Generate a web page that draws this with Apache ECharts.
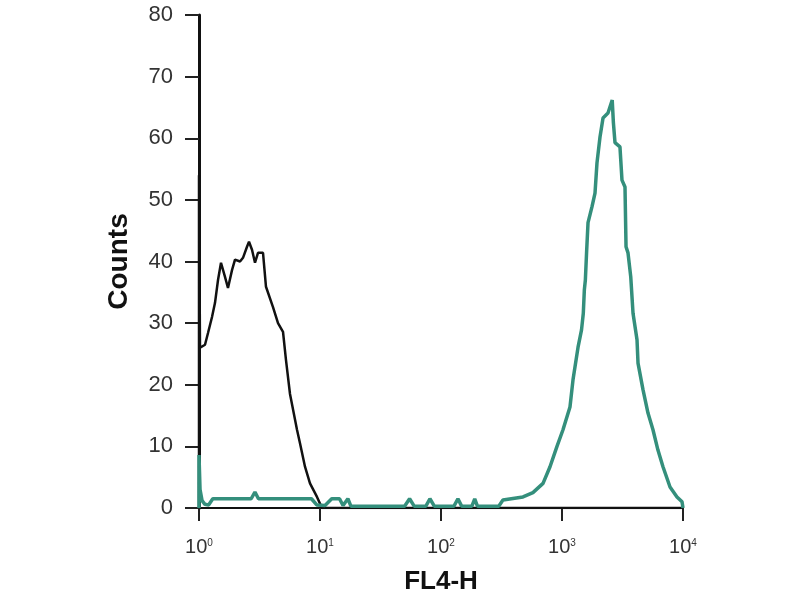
<!DOCTYPE html>
<html><head><meta charset="utf-8">
<script src="https://cdn.jsdelivr.net/npm/echarts@6/dist/echarts.min.js"></script>
<style>html,body{margin:0;padding:0;background:#fff}#c{width:800px;height:600px}</style>
</head><body><div id="c"></div>
<script>
// Isotype control (black) histogram: FL4-H channel value vs counts
const controlX = [1, 1, 1.019, 1.121, 1.187, 1.281, 1.356, 1.436, 1.52, 1.64, 1.736, 1.874, 1.984, 2.183, 2.31, 2.493, 2.59, 2.742, 2.903, 3.073, 3.381, 3.578, 4.089, 4.497, 4.946, 5.236, 5.65, 6.456, 6.834, 7.516, 8.268, 9.445, 10.39, 10000];
const controlY = [0, 54, 26, 26.5, 28.4, 31, 33.3, 37, 39.8, 37.5, 35.7, 38.6, 40.3, 40, 40.6, 42.4, 43.2, 41.9, 39.8, 41.4, 41.4, 35.9, 32.6, 30, 28.6, 24, 18.5, 12.7, 10.5, 6.7, 4, 1.8, 0, 0];
// Stained sample (teal) histogram
const sampleX = [1, 1, 1.02, 1.06, 1.12, 1.2, 1.3, 2.7, 2.9, 3.1, 8.5, 9.4, 11, 12.5, 14.5, 15.5, 17, 18, 50, 55, 60, 75, 81, 88, 128, 138, 148, 180, 190, 200, 300, 325, 476, 575, 697, 796, 909, 1019, 1164, 1233, 1357, 1450, 1500, 1530, 1560, 1600, 1641, 1770, 1874, 1946, 2061, 2183, 2400, 2600, 2660, 2741, 3013, 3131, 3316, 3382, 3511, 3700, 3863, 4168, 4248, 4670, 5136, 5647, 6208, 6833, 7811, 8917, 9816, 10000];
const sampleY = [0, 8.6, 3, 1.2, 0.6, 0.5, 1.5, 1.5, 2.6, 1.5, 1.5, 0.5, 0.4, 1.5, 1.5, 0.4, 1.5, 0.3, 0.3, 1.5, 0.3, 0.3, 1.5, 0.3, 0.3, 1.5, 0.3, 0.3, 1.5, 0.3, 0.3, 1.3, 1.8, 2.5, 4, 6.7, 10, 12.7, 16.4, 20.8, 26.1, 28.9, 31.6, 35.4, 37, 41.9, 46.3, 48.9, 51.1, 56, 60.2, 63.3, 64.1, 66.2, 62.5, 59.3, 58.6, 53.2, 52.1, 42.4, 41.4, 37.5, 31.6, 27.3, 23.5, 19.2, 15.4, 12.7, 9.4, 6.7, 3.4, 1.8, 1, 0];
const xExponents = ['0', '1', '2', '3', '4'];
const yTicks = [0, 10, 20, 30, 40, 50, 60, 70, 80];
const xName = 'FL4-H';
const yName = 'Counts';

const zip = (xs, ys) => xs.map((x, i) => [x, ys[i]]);
const chart = echarts.init(document.getElementById('c'));
const tickFont = "'Liberation Sans Narrow', 'Liberation Sans', Arial, sans-serif";
chart.setOption({
  animation: false,
  grid: { left: 199, right: 117, top: 15, bottom: 92 },
  xAxis: {
    type: 'log', logBase: 10, min: 1, max: 10000,
    name: xName, nameLocation: 'middle', nameGap: 61,
    nameTextStyle: { fontFamily: 'Liberation Sans, Arial', fontWeight: 'bold', fontSize: 26, color: '#111' },
    axisLine: { lineStyle: { color: '#111', width: 2 } },
    axisTick: { show: true, length: 13, lineStyle: { color: '#222', width: 2 } },
    minorTick: { show: false },
    splitLine: { show: false },
    axisLabel: {
      margin: 27,
      formatter: v => '{b|10}{s|' + xExponents[Math.round(Math.log10(v))] + '}',
      rich: {
        b: { fontFamily: tickFont, fontSize: 20, color: '#333', verticalAlign: 'bottom', lineHeight: 22 },
        s: { fontFamily: tickFont, fontSize: 10, color: '#333', verticalAlign: 'bottom', lineHeight: 22, padding: [0, 0, 9, 0] }
      }
    }
  },
  yAxis: {
    type: 'value', min: 0, max: 80, interval: 10,
    name: yName, nameLocation: 'middle', nameGap: 66,
    nameTextStyle: { fontFamily: 'Liberation Sans, Arial', fontWeight: 'bold', fontSize: 28, color: '#111' },
    axisLine: { show: true, lineStyle: { color: '#111', width: 3 } },
    axisTick: { show: true, length: 14, lineStyle: { color: '#222', width: 2 } },
    splitLine: { show: false },
    axisLabel: {
      margin: 26, fontFamily: tickFont, fontSize: 22, color: '#333',
      formatter: v => yTicks.includes(v) ? String(v) : ''
    }
  },
  series: [
    { type: 'line', data: zip(controlX, controlY), showSymbol: false, symbol: 'none',
      lineStyle: { color: '#111', width: 2.5 }, z: 2 },
    { type: 'line', data: zip(sampleX, sampleY), showSymbol: false, symbol: 'none',
      lineStyle: { color: '#348f7c', width: 3.5 }, z: 3 }
  ]
});
</script></body></html>
